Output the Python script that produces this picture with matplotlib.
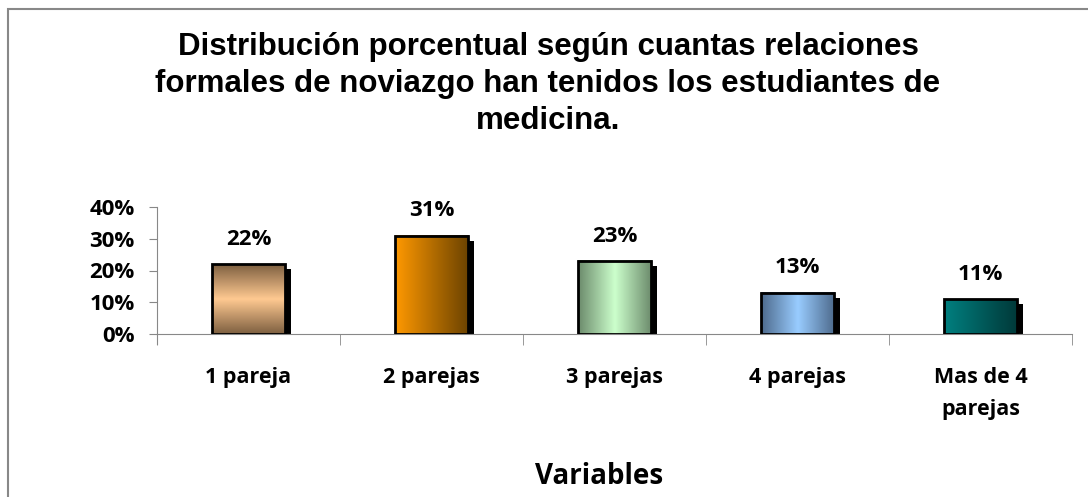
import matplotlib.pyplot as plt
import matplotlib.patches as patches
from matplotlib.colors import to_rgb
import numpy as np

categorias = ['1 pareja', '2 parejas', '3 parejas', '4 parejas', 'Mas de 4\nparejas']
valores = [0.22, 0.31, 0.23, 0.13, 0.11]
etiquetas = ['22%', '31%', '23%', '13%', '11%']
yticks = [0, 0.1, 0.2, 0.3, 0.4]
ytick_labels = ['0%', '10%', '20%', '30%', '40%']

# (color borde, color centro, direccion, simetrico) del degradado de cada barra
degradados = [
    ('#7d5f40', '#ffc991', 'v', True),
    ('#ff9900', '#6b4200', 'h', False),
    ('#6b8a6b', '#ccffcc', 'h', True),
    ('#4d6a8c', '#99ccff', 'h', True),
    ('#008080', '#003838', 'h', False),
]

fuente = 'Open Sans'
fig = plt.figure(figsize=(10.88, 4.97), dpi=100)
ax = fig.add_axes([157/1088, 1-334/497, 915/1088, 127/497])

ancho = 0.4
dx = 0.033   # desplazamiento sombra
dy = 0.016
for i, (v, (c1, c2, d, sim)) in enumerate(zip(valores, degradados)):
    x0 = i - ancho/2
    # sombra
    ax.add_patch(patches.Rectangle((x0 + dx, 0), ancho, v - dy, facecolor='black',
                                   edgecolor='none', zorder=1))
    t = np.linspace(0, 1, 256)
    if sim:
        t = 1 - np.abs(2*t - 1)
    a, b = np.array(to_rgb(c1)), np.array(to_rgb(c2))
    col = a[None, :] + (b - a)[None, :]*t[:, None]
    img = col[None, :, :] if d == 'h' else col[:, None, :]
    ax.imshow(img, extent=[x0, x0 + ancho, 0, v], aspect='auto', zorder=2,
              interpolation='bilinear')
    ax.add_patch(patches.Rectangle((x0, 0), ancho, v, facecolor='none',
                                   edgecolor='black', lw=2, zorder=3))
    ax.text(i, v + 0.078, etiquetas[i], ha='center', va='center', fontsize=16,
            fontweight='bold', family=fuente, zorder=4)

ax.set_xlim(-0.5, 4.5)
ax.set_ylim(0, 0.4)
ax.set_yticks(yticks)
ax.set_yticklabels(ytick_labels, fontsize=16, fontweight='bold', family=fuente)
ax.set_xticks(range(len(categorias)))
ax.set_xticklabels(categorias, fontsize=15.5, fontweight='bold', family=fuente,
                   linespacing=1.65)
ax.set_xticks(np.arange(-0.5, 5, 1), minor=True)
ax.tick_params(axis='x', which='major', length=0, pad=24)
ax.tick_params(axis='x', which='minor', length=8, color='#888888', direction='out')
ax.tick_params(axis='y', length=6, color='#888888', pad=10)
for s in ['top', 'right']:
    ax.spines[s].set_visible(False)
for s in ['left', 'bottom']:
    ax.spines[s].set_color('#888888')
ax.spines['left'].set_bounds(-0.03, 0.4)
ax.spines['left'].set_clip_on(False)

fig.text(548/1088, 1-84/497, 'Distribución porcentual según cuantas relaciones\n'
         'formales de noviazgo han tenidos los estudiantes de\nmedicina.',
         ha='center', va='center', fontsize=22.5, fontweight='bold',
         family='Liberation Sans', linespacing=1.3)
fig.text(599/1088, 1-476/497, 'Variables', ha='center', va='center', fontsize=20,
         fontweight='bold', family=fuente)

fig.patches.append(patches.Rectangle((8/1088, -0.1), 2, 1.1 - 9/497, transform=fig.transFigure,
                                     facecolor='none', edgecolor='#888888', lw=1.5))

fig.savefig('out.png', dpi=100)
